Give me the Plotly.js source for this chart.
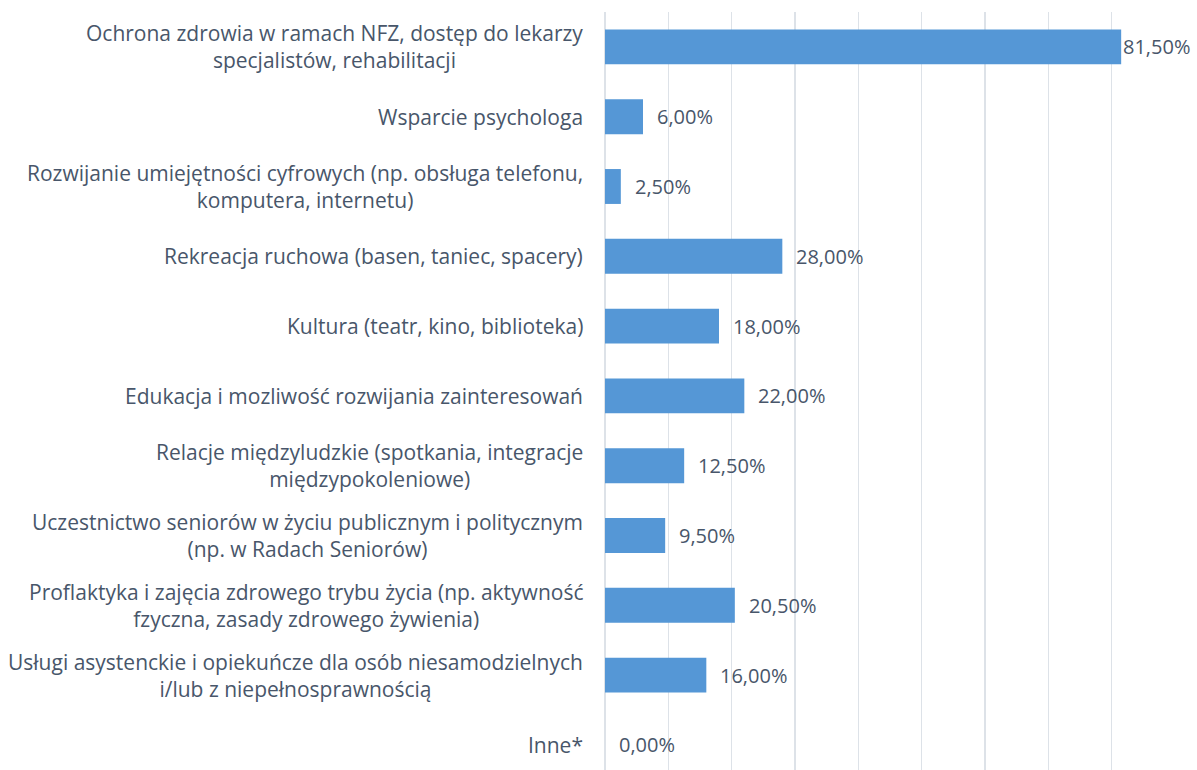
<!DOCTYPE html>
<html>
<head>
<meta charset="utf-8">
<script src="https://cdn.plot.ly/plotly-3.0.1.min.js"></script>
<style>html,body{margin:0;padding:0;background:#fff;}#chart{width:1197px;height:770px;}</style>
</head>
<body>
<div id="chart"></div>
<script>
const categories = [
  "Ochrona zdrowia w ramach NFZ, dostęp do lekarzy<br>specjalistów, rehabilitacji",
  "Wsparcie psychologa",
  "Rozwijanie umiejętności cyfrowych (np. obsługa telefonu,<br>komputera, internetu)",
  "Rekreacja ruchowa (basen, taniec, spacery)",
  "Kultura (teatr, kino, biblioteka)",
  "Edukacja i mozliwość rozwijania zainteresowań",
  "Relacje międzyludzkie (spotkania, integracje<br>międzypokoleniowe)",
  "Uczestnictwo seniorów w życiu publicznym i politycznym<br>(np. w Radach Seniorów)",
  "Proflaktyka i zajęcia zdrowego trybu życia (np. aktywność<br>fzyczna, zasady zdrowego żywienia)",
  "Usługi asystenckie i opiekuńcze dla osób niesamodzielnych<br>i/lub z niepełnosprawnością",
  "Inne*"
];
const values = [81.5, 6.0, 2.5, 28.0, 18.0, 22.0, 12.5, 9.5, 20.5, 16.0, 0.0];
const valueLabels = values.map(v => v.toFixed(2).replace('.', ',') + '%');

const textColor = '#48566A';
const fontFamily = '"Open Sans", sans-serif';

const trace = {
  type: 'bar',
  orientation: 'h',
  x: values,
  y: categories,
  width: 0.5,
  marker: { color: '#5597D6', line: { width: 0 } },
  hoverinfo: 'none'
};

const annotations = [];
categories.forEach((c, i) => {
  annotations.push({
    xref: 'paper', yref: 'y', x: 0, y: c,
    xanchor: 'right', yanchor: 'middle', align: 'center',
    xshift: -20, text: c, showarrow: false,
    font: { family: fontFamily, size: 21, color: textColor }
  });
  annotations.push({
    xref: 'x', yref: 'y', x: values[i], y: c,
    xanchor: 'left', yanchor: 'middle',
    xshift: values[i] > 80 ? 0 : 12, text: valueLabels[i], showarrow: false,
    font: { family: fontFamily, size: 20, color: textColor }
  });
});

const layout = {
  width: 1197, height: 770,
  margin: { l: 605, r: 22, t: 12, b: 0 },
  paper_bgcolor: '#ffffff', plot_bgcolor: '#ffffff',
  showlegend: false,
  xaxis: {
    range: [0, 90], dtick: 10, tick0: 0,
    showgrid: true, gridcolor: '#DDE2E8', gridwidth: 1.5,
    zeroline: true, zerolinecolor: '#DDE2E8', zerolinewidth: 1.5,
    showticklabels: false, ticks: '', showline: false, fixedrange: true
  },
  yaxis: {
    type: 'category',
    range: [10.36, -0.5],
    showticklabels: false, ticks: '', showgrid: false, zeroline: false, showline: false, fixedrange: true
  },
  annotations: annotations
};

Plotly.newPlot('chart', [trace], layout, { displayModeBar: false, staticPlot: true });
</script>
</body>
</html>
